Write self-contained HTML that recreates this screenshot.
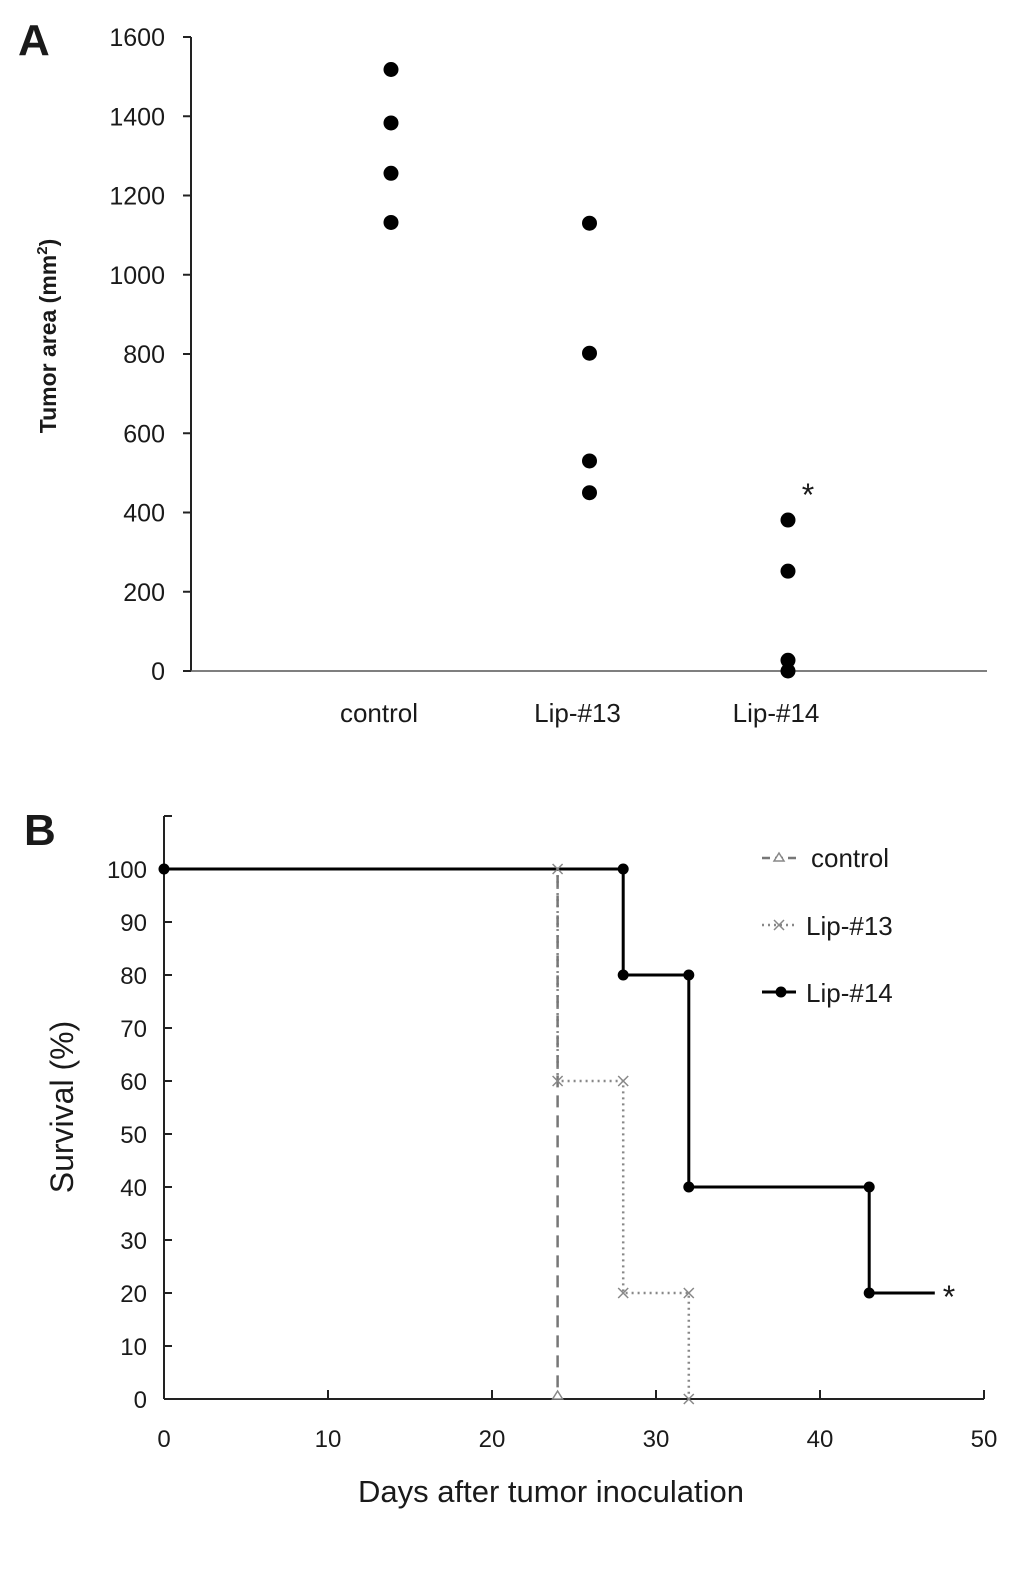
<!DOCTYPE html>
<html><head><meta charset="utf-8"><style>
html,body{margin:0;padding:0;background:#fff;}
svg{display:block;}
.t{font-family:"Liberation Sans",sans-serif;fill:#1a1a1a;}
</style></head><body>
<svg id="fig" width="1033" height="1570" viewBox="0 0 1033 1570" xmlns="http://www.w3.org/2000/svg">
<text class="t" x="18" y="55" font-size="44" font-weight="bold">A</text>
<text class="t" x="24" y="845" font-size="44" font-weight="bold">B</text>
<g id="chartA"></g>
<g id="chartB"></g>
</svg>
<script>
const NS="http://www.w3.org/2000/svg";
// Panel A data
const groupsA=["control","Lip-#13","Lip-#14"];
const controlVals=[1518,1383,1256,1132];
const lip13Vals=[1130,802,530,450];
const lip14Vals=[381,252,27,0];
const yTicksA=[0,200,400,600,800,1000,1200,1400,1600];
// Panel B data
const xTicksB=[0,10,20,30,40,50];
const yTicksB=[0,10,20,30,40,50,60,70,80,90,100];
const ctrlDays=[0,24,24];
const ctrlSurv=[100,100,0];
const lip13Days=[24,24,28,28,32,32];
const lip13Surv=[100,60,60,20,20,0];
const lip14Days=[0,28,28,32,32,43,43,47];
const lip14Surv=[100,100,80,80,40,40,20,20];

function mk(tag,attrs,parent,txt){const e=document.createElementNS(NS,tag);for(const k in attrs)e.setAttribute(k,attrs[k]);if(txt!==undefined)e.textContent=txt;parent.appendChild(e);return e;}

// ---------- Panel A ----------
const gA=document.getElementById('chartA');
const yA=v=>671-v*(634/1600);
const xA=i=>391+i*198.5;
mk('line',{x1:191,y1:37,x2:191,y2:671,stroke:'#222','stroke-width':2},gA);
mk('line',{x1:191,y1:671,x2:987,y2:671,stroke:'#555','stroke-width':1.5},gA);
yTicksA.forEach(v=>{
  const l=mk('line',{x1:183,y1:yA(v),x2:191,y2:yA(v),stroke:'#222','stroke-width':2},gA);
  
  const t=mk('text',{class:'t',x:165,y:yA(v)+9,'font-size':25,'text-anchor':'end'},gA,String(v));
  
  
});
groupsA.forEach((g,i)=>{
  const t=mk('text',{class:'t',x:xA(i)-12,y:722,'font-size':26,'text-anchor':'middle'},gA,g);
  
  
});
const ytA=mk('text',{class:'t',transform:'translate(56,336) rotate(-90)','font-size':23,'font-weight':'bold','text-anchor':'middle'},gA);


ytA.innerHTML='Tumor area (mm<tspan font-size="15" dy="-9">2</tspan><tspan dy="9">)</tspan>';
[controlVals,lip13Vals,lip14Vals].forEach((arr,i)=>{
  arr.forEach(v=>{
    const c=mk('circle',{cx:xA(i),cy:yA(v),r:7.5,fill:'#000'},gA);
    
    
  });
});
const sA=mk('text',{class:'t',x:808,y:506,'font-size':32,'text-anchor':'middle'},gA,'*');


// ---------- Panel B ----------
const gB=document.getElementById('chartB');
const xB=d=>164+d*16.4;
const yB=s=>1399-s*5.3;
mk('line',{x1:164,y1:816,x2:164,y2:1399,stroke:'#222','stroke-width':2},gB);
mk('line',{x1:164,y1:816,x2:172,y2:816,stroke:'#222','stroke-width':2},gB);
mk('line',{x1:164,y1:1399,x2:984,y2:1399,stroke:'#222','stroke-width':2},gB);
yTicksB.forEach(v=>{
  const l=mk('line',{x1:164,y1:yB(v),x2:172,y2:yB(v),stroke:'#222','stroke-width':2},gB);
  
  const t=mk('text',{class:'t',x:147,y:yB(v)+9,'font-size':24,'text-anchor':'end'},gB,String(v));
  
  
});
xTicksB.forEach(v=>{
  const l=mk('line',{x1:xB(v),y1:1390,x2:xB(v),y2:1399,stroke:'#222','stroke-width':2},gB);
  
  const t=mk('text',{class:'t',x:xB(v),y:1447,'font-size':24,'text-anchor':'middle'},gB,String(v));
  
  
});
const xtB=mk('text',{class:'t',x:551,y:1502,'font-size':31,'text-anchor':'middle'},gB,'Days after tumor inoculation');

const ytB=mk('text',{class:'t',transform:'translate(73,1107) rotate(-90)','font-size':32,'text-anchor':'middle'},gB,'Survival (%)');


function pts(ds,ss){return ds.map((d,i)=>xB(d)+','+yB(ss[i])).join(' ');}
const l14=mk('polyline',{points:pts(lip14Days,lip14Surv),fill:'none',stroke:'#000','stroke-width':3},gB);

const l13=mk('polyline',{points:pts(lip13Days,lip13Surv),fill:'none',stroke:'#888','stroke-width':2.5,'stroke-dasharray':'2,4'},gB);

const lc=mk('polyline',{points:pts(ctrlDays,ctrlSurv),fill:'none',stroke:'#777','stroke-width':2.5,'stroke-dasharray':'12,8'},gB);

const l14b=mk('line',{x1:xB(0),y1:yB(100),x2:xB(28),y2:yB(100),stroke:'#000','stroke-width':3},gB);

lip14Days.forEach((d,i)=>{
  if(i===lip14Days.length-1)return;
  const c=mk('circle',{cx:xB(d),cy:yB(lip14Surv[i]),r:5.5,fill:'#000'},gB);
  
});
lip13Days.forEach((d,i)=>{
  const x=xB(d),y=yB(lip13Surv[i]);
  const m=mk('path',{d:`M${x-5},${y-5}L${x+5},${y+5}M${x-5},${y+5}L${x+5},${y-5}`,stroke:'#888','stroke-width':1.5},gB);
  
});
{const x=xB(ctrlDays[2]),y=yB(ctrlSurv[2]);
 const m=mk('path',{d:`M${x-5},${y}L${x},${y-8}L${x+5},${y}Z`,fill:'#fff',stroke:'#888','stroke-width':1.5},gB);
 }
const sB=mk('text',{class:'t',x:949,y:1308,'font-size':32,'text-anchor':'middle'},gB,'*');


// Legend
const lg=mk('g',{},gB);


const e1=mk('g',{},lg);
mk('line',{x1:762,y1:858,x2:796,y2:858,stroke:'#777','stroke-width':2.5,'stroke-dasharray':'8,5'},e1);
mk('path',{d:'M774,861L779,853L784,861Z',fill:'#fff',stroke:'#888','stroke-width':1.5},e1);
mk('text',{class:'t',x:811,y:867,'font-size':26},e1,'control');
const e2=mk('g',{},lg);
mk('line',{x1:762,y1:925,x2:796,y2:925,stroke:'#888','stroke-width':2.5,'stroke-dasharray':'2,4'},e2);
mk('path',{d:'M774,920L784,930M774,930L784,920',stroke:'#888','stroke-width':1.5},e2);
mk('text',{class:'t',x:806,y:935,'font-size':26},e2,'Lip-#13');
const e3=mk('g',{},lg);
mk('line',{x1:762,y1:992,x2:796,y2:992,stroke:'#000','stroke-width':3},e3);
mk('circle',{cx:781,cy:992,r:5.5,fill:'#000'},e3);
mk('text',{class:'t',x:806,y:1002,'font-size':26},e3,'Lip-#14');
</script>
</body></html>
